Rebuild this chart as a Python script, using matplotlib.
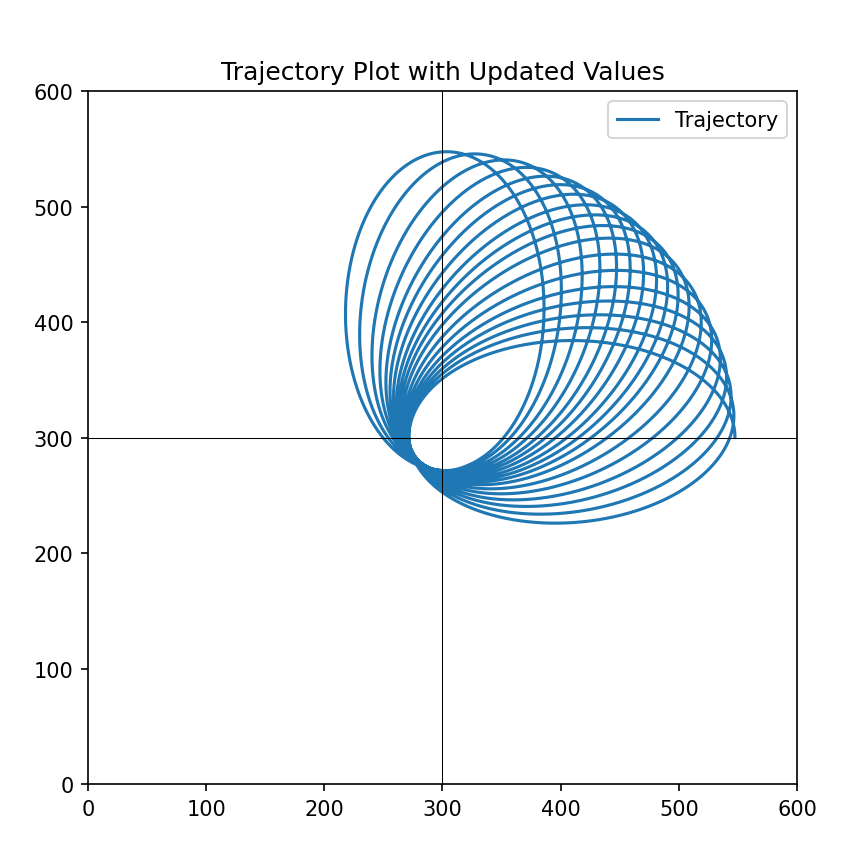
import numpy as np
import matplotlib
matplotlib.use('Agg')
import matplotlib.pyplot as plt

#####################################################################
# values
#####################################################################
center = (300, 300)       # fixed point the loops wrap around (focus)
peri_dist = 28.5          # closest approach to the centre
apo_dist = 247.5          # farthest point of each loop
# direction (deg) of the far point of each loop, first loop to last
# (the last entry is the half loop that ends the trajectory)
apo_angles = [89, 82, 74.5, 68.5, 63, 58.5, 54, 49.5, 45.5, 41.5,
              37, 31.5, 26, 20.5, 15.5, 10.5, 5.5, 0]

x_lim = (0, 600)
y_lim = (0, 600)
ticks = [0, 100, 200, 300, 400, 500, 600]

#####################################################################
# build the trajectory: clockwise, near point to near point,
# the loop turns to its new direction while passing the near point
#####################################################################
p = 2.0 * peri_dist * apo_dist / (peri_dist + apo_dist)   # semi-latus rectum
e = (apo_dist - peri_dist) / (apo_dist + peri_dist)       # eccentricity
turn = 0.8                                                # radians spent turning

xs, ys = [], []
n_loops = len(apo_angles)
for k in range(n_loops):
    last = (k == n_loops - 1)
    v = np.linspace(0, np.pi if last else 2 * np.pi, 1500, endpoint=last)
    w = np.full_like(v, float(apo_angles[k]))
    if not last:
        s = np.clip((v - (2 * np.pi - turn)) / turn, 0, 1)
        s = s * s * (3 - 2 * s)
        w = w + (apo_angles[k + 1] - apo_angles[k]) * s
    w = np.radians(w)
    r = p / (1 + e * np.cos(v))
    theta = w + np.pi - v
    xs.append(center[0] + r * np.cos(theta))
    ys.append(center[1] + r * np.sin(theta))
x = np.concatenate(xs)
y = np.concatenate(ys)

#####################################################################
# plotting
#####################################################################
fig = plt.figure(figsize=(865 / 150.0, 857 / 150.0), dpi=150)
ax = fig.add_axes([0.1017, 0.0840, 0.8197, 0.8086])

ax.plot(x, y, color='#1f77b4', linewidth=1.5, label='Trajectory')
ax.axhline(center[1], color='black', linewidth=0.5)
ax.axvline(center[0], color='black', linewidth=0.5)

ax.set_xlim(*x_lim)
ax.set_ylim(*y_lim)
ax.set_xticks(ticks)
ax.set_yticks(ticks)
ax.set_title('Trajectory Plot with Updated Values')
ax.legend(loc='upper right')

plt.savefig('out.png', dpi=150)
plt.close()
